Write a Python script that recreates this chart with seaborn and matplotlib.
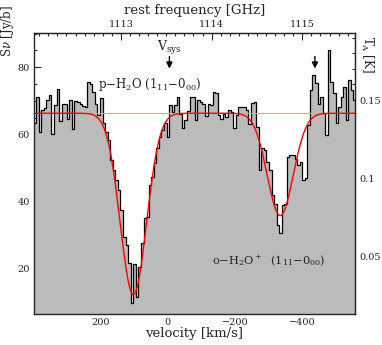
import numpy as np
import pandas as pd
import matplotlib
matplotlib.use("Agg")
import matplotlib.pyplot as plt
import seaborn as sns
from matplotlib.ticker import MultipleLocator, FuncFormatter

# channel centres [km/s] and flux density [Jy/beam]
velocity = [394.8, 387.2, 379.6, 372.0, 364.4, 356.8, 349.2, 341.6, 334.0, 326.4,
            318.8, 311.2, 303.6, 296.0, 288.4, 280.8, 273.2, 265.6, 258.0, 250.4,
            242.8, 235.2, 227.6, 220.0, 212.4, 204.8, 197.2, 189.6, 182.0, 174.4,
            166.8, 159.2, 151.6, 144.0, 136.4, 128.8, 121.2, 113.6, 106.0, 98.4,
            90.8, 83.2, 75.6, 68.0, 60.4, 52.8, 45.2, 37.6, 30.0, 22.4,
            14.8, 7.2, -0.4, -8.0, -15.6, -23.2, -30.8, -38.4, -46.0, -53.6,
            -61.2, -68.8, -76.4, -84.0, -91.6, -99.2, -106.8, -114.4, -122.0, -129.6,
            -137.2, -144.8, -152.4, -160.0, -167.6, -175.2, -182.8, -190.4, -198.0, -205.6,
            -213.2, -220.8, -228.4, -236.0, -243.6, -251.2, -258.8, -266.4, -274.0, -281.6,
            -289.2, -296.8, -304.4, -312.0, -319.6, -327.2, -334.8, -342.4, -350.0, -357.6,
            -365.2, -372.8, -380.4, -388.0, -395.6, -403.2, -410.8, -418.4, -426.0, -433.6,
            -441.2, -448.8, -456.4, -464.0, -471.6, -479.2, -486.8, -494.4, -502.0, -509.6,
            -517.2, -524.8, -532.4, -540.0, -547.6, -555.2]
flux = [63.3, 71.2, 60.8, 67.4, 68.0, 70.2, 71.7, 60.0, 68.7, 73.4,
        64.0, 69.2, 69.2, 64.5, 70.2, 61.5, 70.0, 69.5, 69.0, 68.5,
        68.2, 75.7, 75.0, 72.7, 69.2, 65.7, 70.7, 63.3, 60.8, 58.3,
        52.3, 49.4, 46.4, 43.4, 37.5, 29.5, 27.0, 21.6, 9.9, 21.4,
        11.5, 20.6, 27.5, 35.0, 35.5, 44.9, 47.4, 51.5, 56.0, 59.3,
        61.3, 63.3, 59.3, 68.7, 66.7, 68.7, 71.2, 66.0, 61.8, 64.2,
        67.0, 71.0, 71.0, 64.2, 70.2, 69.7, 69.2, 65.5, 69.2, 68.7,
        72.7, 72.2, 65.7, 64.7, 66.2, 65.2, 67.2, 66.7, 61.8, 65.7,
        68.2, 68.2, 68.2, 67.2, 63.2, 69.4, 69.7, 62.3, 49.5, 56.0,
        55.3, 51.8, 49.4, 41.9, 39.4, 33.0, 30.5, 39.0, 39.4, 53.3,
        53.8, 53.8, 52.8, 50.8, 51.8, 46.4, 47.0, 62.8, 73.2, 77.7,
        75.2, 69.0, 71.2, 66.3, 59.8, 85.0, 75.7, 72.2, 63.3, 68.2,
        71.2, 74.2, 64.3, 76.2, 73.2, 70.2]

# gaussian fit: continuum, then (centre, depth, sigma) for each line
continuum = 66.3
line_centres = [102.0, -334.0]
line_depths = [54.0, 30.5]
line_sigmas = [39.0, 38.5]

# axis conversions
F0, KMS_PER_GHZ = 1113.516, 269.3
TA_SLOPE, TA_OFFSET = 0.002146, -0.00065

sns.set_style("ticks")
plt.rcParams["font.family"] = ["DejaVu Serif"]
plt.rcParams["mathtext.fontset"] = "dejavuserif"

fig = plt.figure(figsize=(3.82, 3.45), dpi=100)
ax = fig.add_axes([34/382, 31/345, 321/382, 281/345])

dv = 7.6
spec = pd.DataFrame({"v": velocity, "S": flux})
edges = sorted([v + dv/2 for v in velocity] + [velocity[-1] - dv/2])
sns.histplot(data=spec, x="v", weights="S", bins=edges, element="step", fill=True,
             color="#bbbbbb", alpha=1, edgecolor="black", linewidth=0.9, ax=ax)

vfit = np.linspace(-570, 410, 900)
model = np.full_like(vfit, continuum)
for c, d, s in zip(line_centres, line_depths, line_sigmas):
    model -= d * np.exp(-0.5 * ((vfit - c) / s) ** 2)
ax.axhline(continuum, color="#f29a9a", lw=0.8, zorder=3)
sns.lineplot(x=vfit, y=model, color="red", lw=1.0, ax=ax, zorder=4)

ax.set_xlim(397, -556)
ax.set_ylim(6.5, 90.2)
ax.set_xlabel("velocity [km/s]", fontsize=9.5, labelpad=0)
ax.set_ylabel("")
ax.xaxis.set_major_locator(MultipleLocator(200))
ax.xaxis.set_minor_locator(MultipleLocator(50))
ax.yaxis.set_major_locator(MultipleLocator(20))
ax.yaxis.set_minor_locator(MultipleLocator(5))
ax.tick_params(which="both", direction="in", labelsize=7, width=0.8)
ax.tick_params(which="major", length=5, pad=3)
ax.tick_params(which="minor", length=2.5)
for sp in ax.spines.values():
    sp.set_linewidth(1.0)
    sp.set_zorder(6)

top = ax.secondary_xaxis("top", functions=(lambda v: F0 - np.asarray(v) / KMS_PER_GHZ,
                                          lambda f: (F0 - np.asarray(f)) * KMS_PER_GHZ))
top.xaxis.set_major_locator(MultipleLocator(1))
top.xaxis.set_minor_locator(MultipleLocator(0.1))
top.tick_params(which="both", direction="in", labelsize=7, width=0.8)
top.tick_params(which="major", length=5, pad=3)
top.tick_params(which="minor", length=2.5)
top.set_xlabel("rest frequency [GHz]", fontsize=9.5, labelpad=4)

right = ax.secondary_yaxis("right", functions=(lambda s: TA_SLOPE * np.asarray(s) + TA_OFFSET,
                                              lambda t: (np.asarray(t) - TA_OFFSET) / TA_SLOPE))
right.yaxis.set_major_locator(MultipleLocator(0.05))
right.yaxis.set_minor_locator(MultipleLocator(0.01))
right.yaxis.set_major_formatter(FuncFormatter(lambda x, p: f"{x:g}"))
right.tick_params(which="both", direction="in", labelsize=7, width=0.8)
right.tick_params(which="major", length=5, pad=3)
right.tick_params(which="minor", length=2.5)

fig.text(8/382, 1 - 31/345, r"S$\nu$ [Jy/b]", rotation=90, ha="center", va="center", fontsize=8.5)
fig.text(367/382, 1 - 54/345, r"T$_{\rm A}$ [K]", rotation=-90, ha="center", va="center", fontsize=8.5)

# labels and arrows
ax.text(-5, 85.6, r"V$_{\rm sys}$", ha="center", va="center", fontsize=9)
for v in [-5, -437]:
    ax.annotate("", xy=(v, 79.6), xytext=(v, 83.2),
                arrowprops=dict(arrowstyle="-|>", color="black", lw=1.0,
                                mutation_scale=9, shrinkA=0, shrinkB=0))
ax.text(207, 74.8, r"p$-$H$_2$O (1$_{11}$$-$0$_{00}$)", ha="left", va="center", fontsize=8.5)
ax.text(-131, 22.4, r"o$-$H$_2$O$^+$  (1$_{11}$$-$0$_{00}$)", ha="left", va="center", fontsize=8.2)

fig.savefig("out.png", dpi=100)
